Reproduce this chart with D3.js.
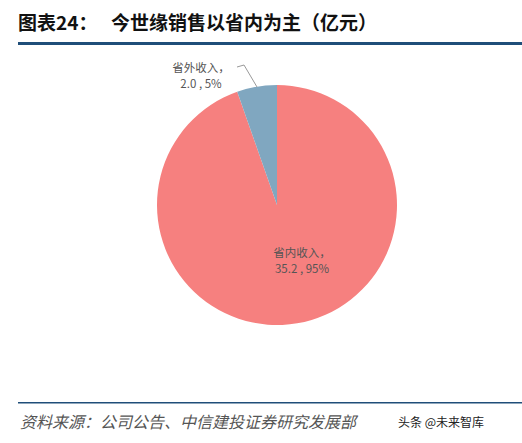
<!DOCTYPE html><html><head><meta charset="utf-8">
<script src="https://cdn.jsdelivr.net/npm/d3@7"></script>
<style>body{margin:0;background:#fff}</style></head><body>
<svg id="c" width="522" height="443"></svg>
<script>
const categories=["省内收入","省外收入"];
const values=[35.2,2.0];
const percents=["95%","5%"];
const colors=["#F6807F","#80A7C0"];
const svg=d3.select("#c");
const F="'Noto Sans CJK SC',sans-serif";
svg.append("text").attr("x",18).attr("y",30).attr("font-family",F).attr("font-weight","bold").attr("font-size",19).attr("fill","#111").text("图表24：");
svg.append("text").attr("x",111).attr("y",30).attr("font-family",F).attr("font-weight","bold").attr("font-size",19).attr("fill","#111").text("今世缘销售以省内为主（亿元）");
svg.append("rect").attr("x",18).attr("y",42).attr("width",504).attr("height",3).attr("fill","#1F4E79");
svg.append("rect").attr("x",18).attr("y",402).attr("width",504).attr("height",1.5).attr("fill","#1F4E79");
svg.append("text").attr("x",20).attr("y",428).attr("font-family",F).attr("font-style","italic").attr("font-size",16).attr("fill","#555").text("资料来源：公司公告、中信建投证券研究发展部");
svg.append("text").attr("x",398).attr("y",427).attr("font-family",F).attr("font-size",12).attr("fill","#222").text("头条 @未来智库");
const cx=277,cy=205,r=120;
const pie=d3.pie().sort(null)(values);
const arc=d3.arc().innerRadius(0).outerRadius(r);
const g=svg.append("g").attr("transform",`translate(${cx},${cy})`);
g.selectAll("path").data(pie).join("path").attr("d",arc).attr("fill",(d,i)=>colors[i]);
const M="'Liberation Mono','DejaVu Sans Mono',monospace";
function label(x,y,lines){const t=svg.append("text").attr("font-family",F).attr("font-size",11.5).attr("fill","#555").attr("text-anchor","middle");
lines.forEach((l,i)=>t.append("tspan").attr("x",x).attr("y",y+i*16).text(l));}
label(302,257,[categories[0]+"，",values[0].toFixed(1)+" , "+percents[0]]);
label(201,72,[categories[1]+"，",values[1].toFixed(1)+" , "+percents[1]]);
svg.append("path").attr("d","M237,67 L244,65 L257,87").attr("fill","none").attr("stroke","#999").attr("stroke-width",1);
</script></body></html>
